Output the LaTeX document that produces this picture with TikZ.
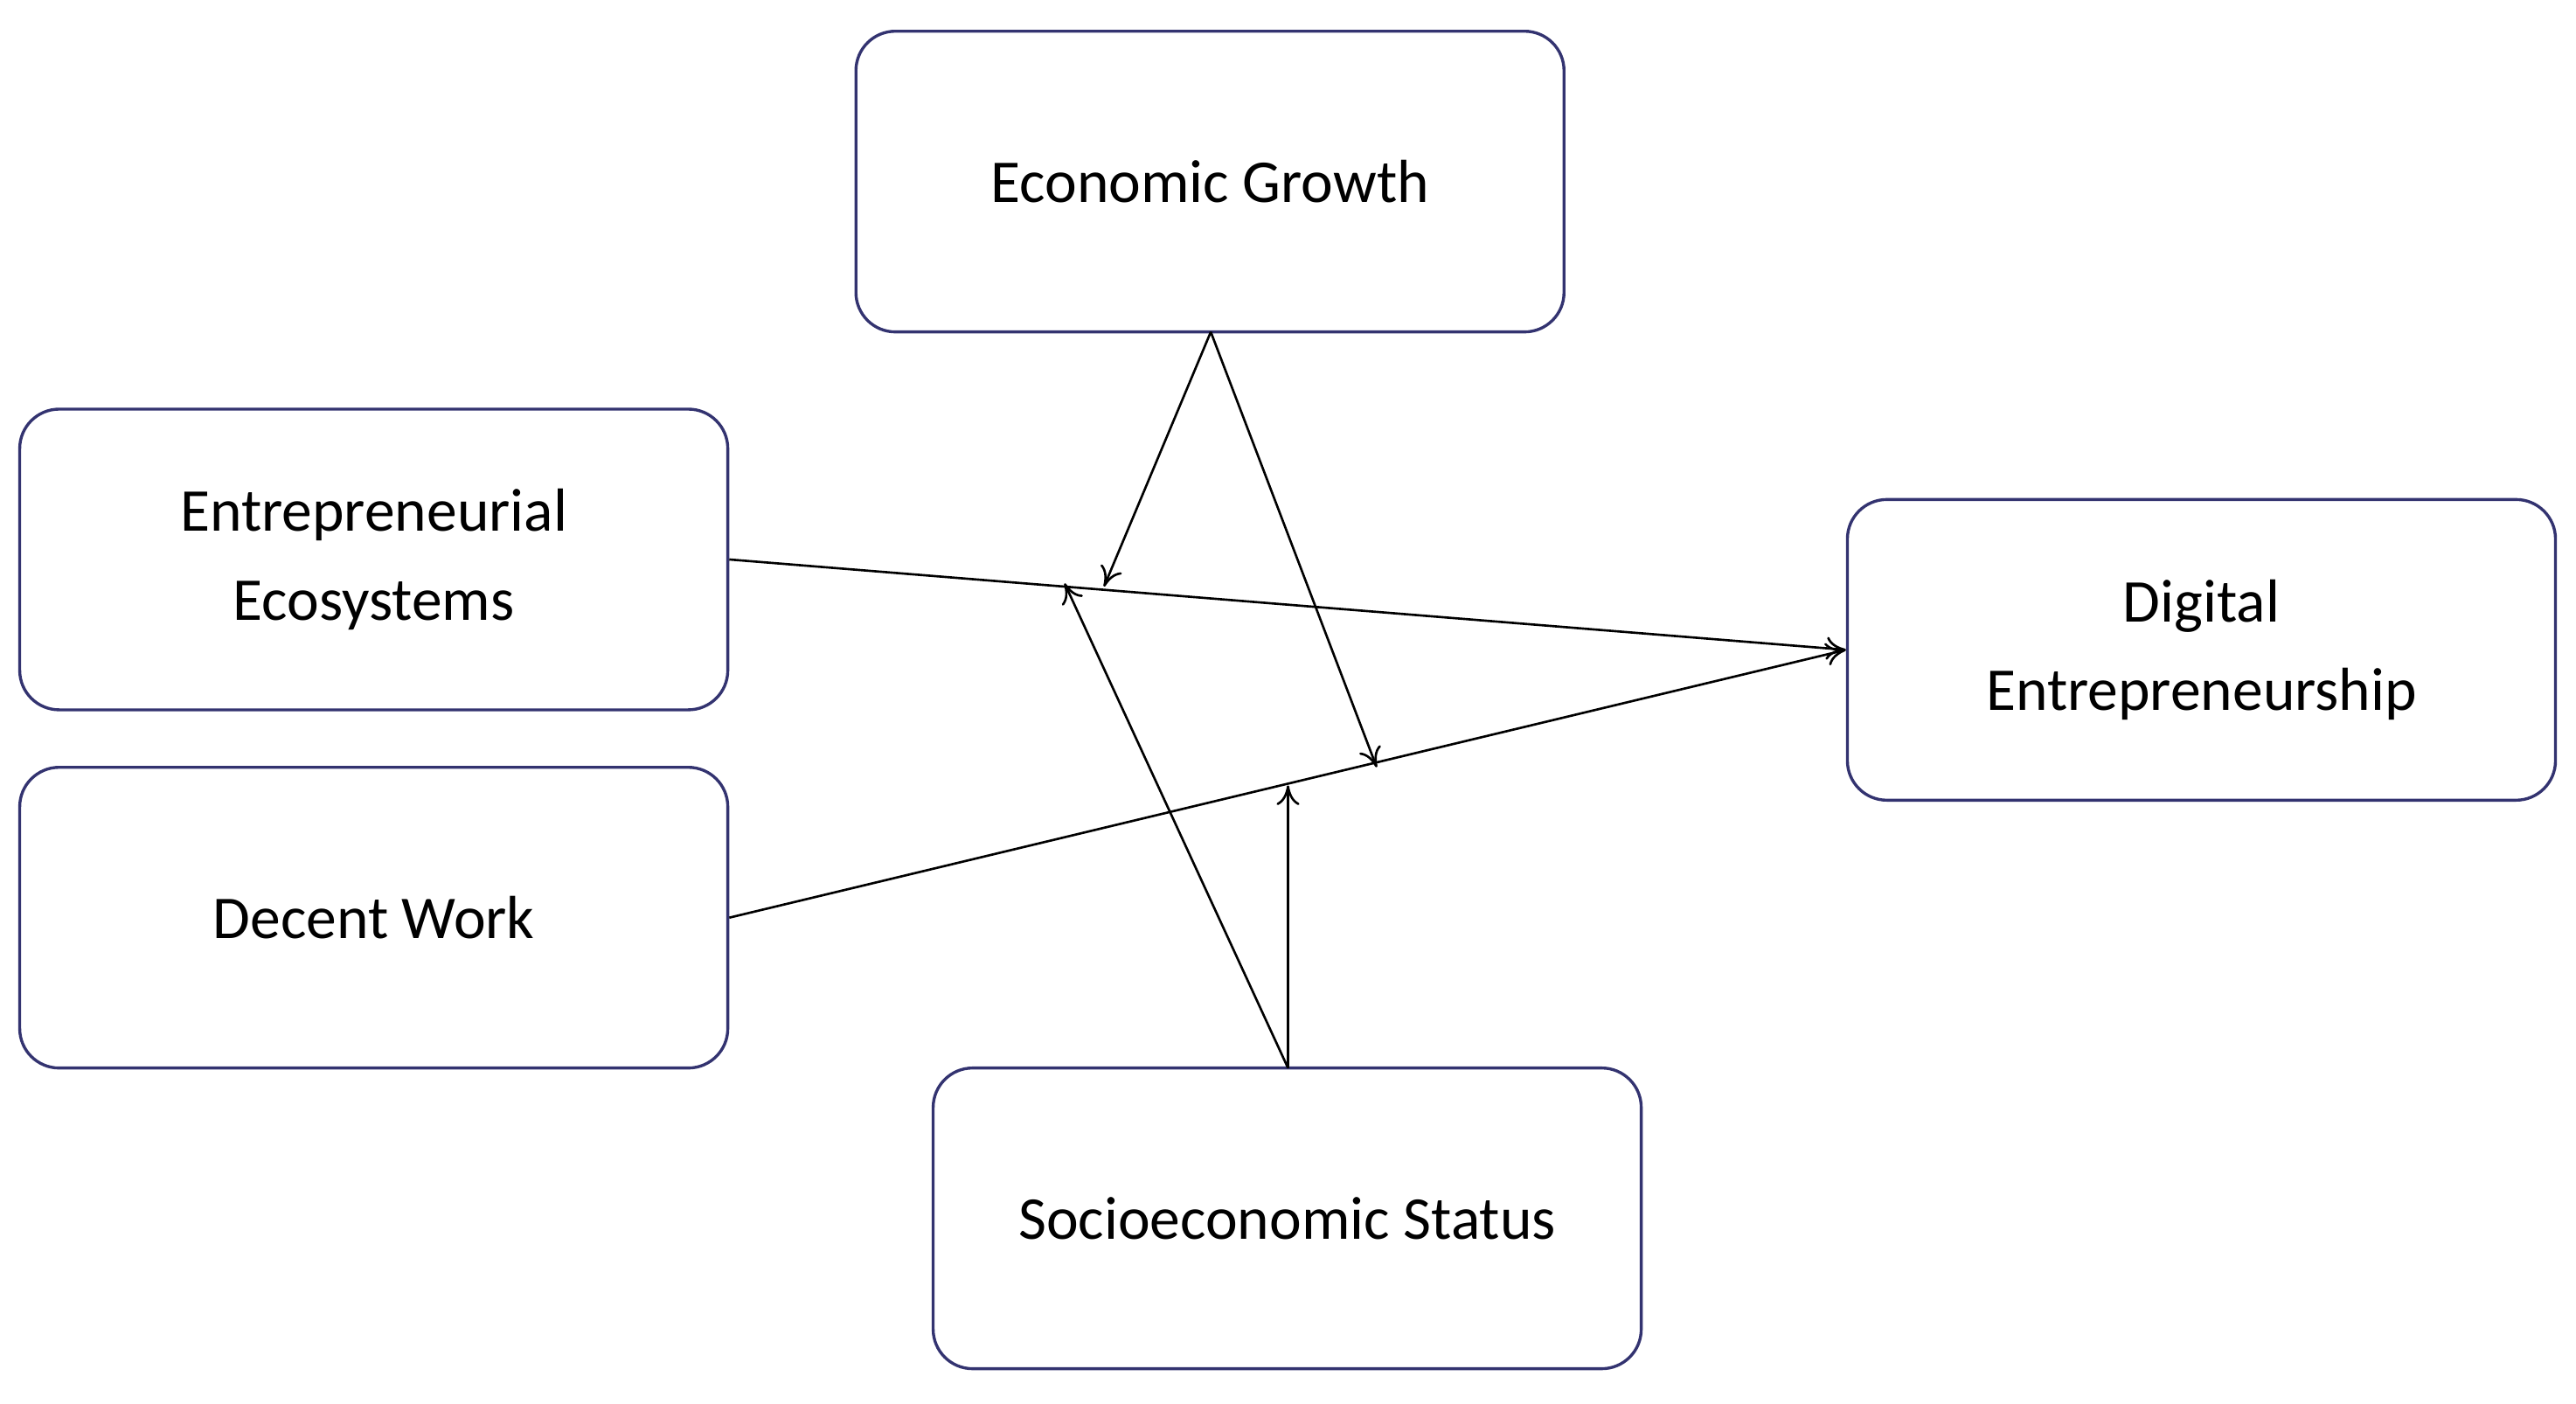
\documentclass[tikz,border=0pt]{standalone}
\usepackage{fontspec}
\setmainfont{Carlito}
\usetikzlibrary{arrows.meta}
\begin{document}
\begin{tikzpicture}[x=1pt,y=-1pt,
  box/.style={draw=black!60!blue!60!gray,line width=1.8pt,rounded corners=24pt,minimum width=431pt,minimum height=183pt,align=center,font=\fontsize{37}{54}\selectfont,inner sep=0pt},
  conn/.style={line width=1.4pt,-{To[length=12pt,width=14pt]}}]
\useasboundingbox (0,0) rectangle (1568,854);
\node[box] (eg) at (736.5,110.5) {Economic Growth};
\node[box] (ee) at (227.5,340.5) {Entrepreneurial\\Ecosystems};
\node[box] (dw) at (227.5,558.5) {Decent Work};
\node[box] (de) at (1340,395.5) {Digital\\Entrepreneurship};
\node[box] (ss) at (783.5,741.5) {Socioeconomic Status};
\coordinate (egb) at (737,202);
\coordinate (sst) at (784,650);
\coordinate (m1) at (672,357);
\coordinate (m2) at (838,467);
\coordinate (m3) at (648,355);
\coordinate (m4) at (784,478);
\draw[conn] (ee.east) -- (de.west);
\draw[conn] (dw.east) -- (de.west);
\draw[conn] (egb) -- (m1);
\draw[conn] (egb) -- (m2);
\draw[conn] (sst) -- (m3);
\draw[conn] (sst) -- (m4);
\end{tikzpicture}
\end{document}
